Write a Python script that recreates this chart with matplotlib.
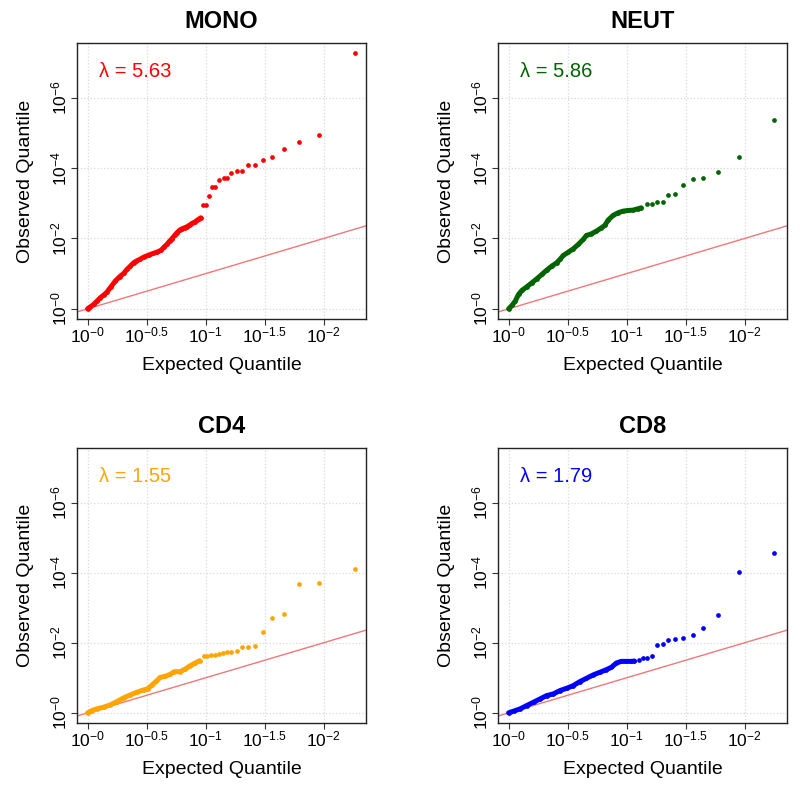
import numpy as np
import matplotlib
matplotlib.use('Agg')
import matplotlib.pyplot as plt

plt.rcParams['font.family'] = ['Liberation Sans', 'DejaVu Sans']
plt.rcParams['mathtext.fontset'] = 'custom'
plt.rcParams['mathtext.rm'] = 'Liberation Sans'
plt.rcParams['mathtext.it'] = 'Liberation Sans:italic'
plt.rcParams['mathtext.bf'] = 'Liberation Sans:bold'

# -log10 expected / observed quantiles
# dense part of each curve (overlapping points) and the separate tail points
mono_curve_x = [0, 0.023, 0.051, 0.079, 0.107, 0.136, 0.164, 0.198, 0.234, 0.271, 0.305, 0.333,
                0.362, 0.39, 0.412, 0.441, 0.475, 0.517, 0.554, 0.588, 0.624, 0.65, 0.672, 0.695,
                0.715, 0.737, 0.757, 0.78, 0.799, 0.822, 0.842, 0.864, 0.884, 0.907, 0.927, 0.946, 0.96]
mono_curve_y = [0, 0.057, 0.123, 0.218, 0.313, 0.389, 0.474, 0.626, 0.787, 0.91, 1.005, 1.118,
                1.213, 1.308, 1.355, 1.403, 1.469, 1.526, 1.573, 1.611, 1.668, 1.763, 1.829, 1.924,
                1.991, 2.085, 2.161, 2.237, 2.275, 2.303, 2.332, 2.379, 2.427, 2.464, 2.512, 2.559, 2.588]
mono_tail_x = [0.975, 1.003, 1.031, 1.054, 1.082, 1.116, 1.153, 1.181, 1.218, 1.266, 1.308,
               1.356, 1.421, 1.486, 1.562, 1.661, 1.788, 1.963, 2.263]
mono_tail_y = [2.95, 2.95, 3.22, 3.47, 3.47, 3.65, 3.71, 3.71, 3.87, 3.91, 3.93,
               4.09, 4.09, 4.22, 4.32, 4.55, 4.75, 4.93, 7.27]

neut_curve_x = [0, 0.028, 0.056, 0.084, 0.112, 0.154, 0.197, 0.239, 0.281, 0.323, 0.365, 0.407,
                0.435, 0.463, 0.506, 0.548, 0.59, 0.632, 0.66, 0.702, 0.744, 0.787, 0.815, 0.843,
                0.885, 0.927, 0.969, 1.011, 1.053, 1.096, 1.124]
neut_curve_y = [0, 0.095, 0.218, 0.408, 0.521, 0.626, 0.739, 0.853, 0.976, 1.1, 1.213, 1.308,
                1.403, 1.517, 1.611, 1.706, 1.829, 1.972, 2.085, 2.133, 2.209, 2.303, 2.37, 2.521,
                2.654, 2.73, 2.777, 2.796, 2.806, 2.844, 2.872]
neut_tail_x = [1.171, 1.213, 1.258, 1.306, 1.351, 1.407, 1.475, 1.559, 1.649, 1.778, 1.952, 2.253]
neut_tail_y = [2.986, 2.995, 3.033, 3.043, 3.223, 3.27, 3.526, 3.678, 3.725, 3.886, 4.32, 5.365]

cd4_curve_x = [0, 0.037, 0.079, 0.136, 0.192, 0.249, 0.305, 0.362, 0.418, 0.475, 0.508, 0.545,
               0.582, 0.616, 0.658, 0.701, 0.734, 0.785, 0.828, 0.87, 0.912, 0.949]
cd4_curve_y = [0, 0.066, 0.114, 0.161, 0.227, 0.322, 0.427, 0.512, 0.588, 0.654, 0.682, 0.796,
               0.9, 1.014, 1.043, 1.1, 1.175, 1.175, 1.251, 1.346, 1.422, 1.488]
cd4_tail_x = [0.983, 1.011, 1.045, 1.077, 1.11, 1.147, 1.181, 1.218, 1.266, 1.308, 1.356,
              1.421, 1.486, 1.562, 1.661, 1.788, 1.963, 2.263]
cd4_tail_y = [1.63, 1.63, 1.64, 1.649, 1.668, 1.706, 1.725, 1.744, 1.763, 1.877, 1.877,
              1.915, 2.294, 2.701, 2.825, 3.687, 3.706, 4.114]

cd8_curve_x = [0, 0.042, 0.098, 0.154, 0.211, 0.267, 0.323, 0.379, 0.435, 0.492, 0.548, 0.604,
               0.66, 0.716, 0.772, 0.829, 0.871, 0.913, 0.955, 0.997, 1.039, 1.067]
cd8_curve_y = [0, 0.047, 0.114, 0.209, 0.303, 0.398, 0.493, 0.54, 0.635, 0.701, 0.777, 0.891,
               0.986, 1.081, 1.156, 1.232, 1.299, 1.422, 1.469, 1.469, 1.469, 1.479]
cd8_tail_x = [1.104, 1.138, 1.171, 1.213, 1.256, 1.306, 1.351, 1.407, 1.475, 1.559, 1.649,
              1.778, 1.952, 2.253]
cd8_tail_y = [1.517, 1.555, 1.573, 1.611, 1.934, 1.972, 2.085, 2.104, 2.123, 2.218, 2.408,
              2.806, 4.028, 4.55]

panels = ['MONO', 'NEUT', 'CD4', 'CD8']
lambdas = [5.63, 5.86, 1.55, 1.79]
colors = ['#FF0000', '#006400', '#FFA500', '#0000FF']
curves = [(mono_curve_x, mono_curve_y, mono_tail_x, mono_tail_y),
          (neut_curve_x, neut_curve_y, neut_tail_x, neut_tail_y),
          (cd4_curve_x, cd4_curve_y, cd4_tail_x, cd4_tail_y),
          (cd8_curve_x, cd8_curve_y, cd8_tail_x, cd8_tail_y)]

x_ticks = [0, 0.5, 1, 1.5, 2]
x_ticklabels = [r'$10^{-0}$', r'$10^{-0.5}$', r'$10^{-1}$', r'$10^{-1.5}$', r'$10^{-2}$']
y_ticks = [0, 2, 4, 6]
y_ticklabels = [r'$10^{-0}$', r'$10^{-2}$', r'$10^{-4}$', r'$10^{-6}$']

W, H = 800, 787
fig = plt.figure(figsize=(W / 100, H / 100), dpi=100)

# axes boxes in pixels: left, top, right, bottom
boxes = [(77, 43, 366, 319), (498, 43, 787, 319),
         (77, 448, 366, 723), (498, 448, 787, 723)]

for i in range(4):
    l, t, r, b = boxes[i]
    ax = fig.add_axes([l / W, 1 - b / H, (r - l) / W, (b - t) / H])
    cx, cy, tx, ty = curves[i]
    col = colors[i]

    ax.set_xlim(-0.09, 2.36)
    ax.set_ylim(-0.29, 7.56)
    ax.set_xticks(x_ticks)
    ax.set_xticklabels(x_ticklabels, fontsize=12.5)
    ax.set_yticks(y_ticks)
    ax.set_yticklabels(y_ticklabels, fontsize=12.5, rotation=90, va='center')
    ax.grid(True, color='#D9D9D9', linestyle=':', linewidth=0.9)
    ax.set_axisbelow(True)
    ax.tick_params(length=4, width=0.8, color='#333333')
    ax.tick_params(axis='x', pad=1)
    ax.tick_params(axis='y', pad=1.5)
    for s in ax.spines.values():
        s.set_linewidth(1.0)
        s.set_color('#222222')

    ax.axline((0, 0), slope=1, color='#F07878', linewidth=1.0, zorder=2)
    ax.plot(cx, cy, '-', color=col, linewidth=3.6, solid_capstyle='round',
            solid_joinstyle='round', zorder=3)
    ax.plot(cx + tx, cy + ty, 'o', color=col, markersize=3.4, markeredgewidth=0, zorder=3)

    ax.text(0.1, 6.75, '\u03bb = %.2f' % lambdas[i], color=col, fontsize=14.5, va='center')
    ax.set_title(panels[i], fontsize=17, fontweight='bold', pad=11)
    ax.set_xlabel('Expected Quantile', fontsize=14, labelpad=8)
    ax.set_ylabel('Observed Quantile', fontsize=14, labelpad=11)

fig.savefig('out.png', dpi=100)
